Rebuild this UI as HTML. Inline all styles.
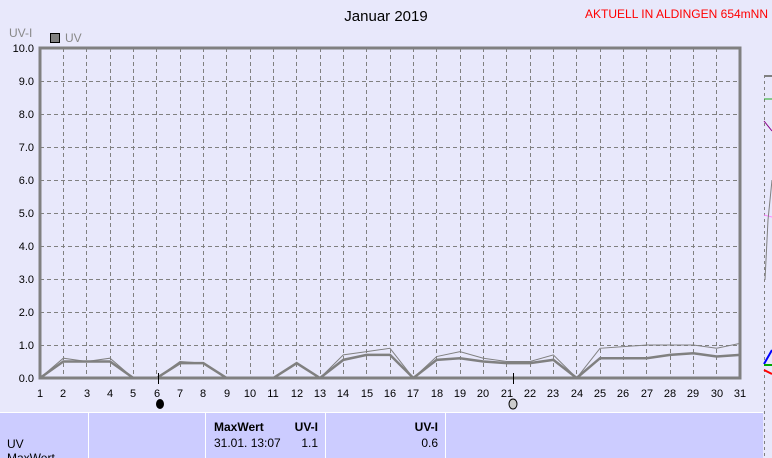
<!DOCTYPE html>
<html><head><style>
body{margin:0;width:772px;height:458px;overflow:hidden;background:#e8e8fb;font-family:"Liberation Sans",sans-serif;position:relative}
.t{position:absolute;white-space:nowrap}
</style></head><body>
<svg width="772" height="458" style="position:absolute;left:0;top:0" font-family="Liberation Sans, sans-serif">
<text x="386" y="21" font-size="15" text-anchor="middle" fill="#000">Januar 2019</text>
<text x="768" y="18" font-size="12" text-anchor="end" fill="#f00">AKTUELL IN ALDINGEN 654mNN</text>
<text x="9" y="37" font-size="12" fill="#888">UV-I</text>
<rect x="50.5" y="33.5" width="9" height="9" fill="#808080" stroke="#000"/>
<text x="65" y="42" font-size="12" fill="#888">UV</text>
<g stroke="#808080" stroke-dasharray="4,3" stroke-width="1">
<path d="M40 81.5H740M40 114.5H740M40 147.5H740M40 180.5H740M40 213.5H740M40 246.5H740M40 279.5H740M40 312.5H740M40 345.5H740"/>
<path d="M63.5 48V378M86.5 48V378M110.5 48V378M133.5 48V378M156.5 48V378M180.5 48V378M203.5 48V378M226.5 48V378M250.5 48V378M273.5 48V378M296.5 48V378M320.5 48V378M343.5 48V378M366.5 48V378M390.5 48V378M413.5 48V378M436.5 48V378M460.5 48V378M483.5 48V378M506.5 48V378M530.5 48V378M553.5 48V378M576.5 48V378M600.5 48V378M623.5 48V378M646.5 48V378M670.5 48V378M693.5 48V378M716.5 48V378"/>
</g>
<g stroke="#808080" fill="none">
<path d="M40 48H740V378H40Z" stroke-width="3"/>
</g>
<g font-size="11" fill="#000" text-anchor="end">
<text x="34" y="52">10.0</text><text x="34" y="85">9.0</text><text x="34" y="118">8.0</text><text x="34" y="151">7.0</text><text x="34" y="184">6.0</text><text x="34" y="217">5.0</text><text x="34" y="250">4.0</text><text x="34" y="283">3.0</text><text x="34" y="316">2.0</text><text x="34" y="349">1.0</text><text x="34" y="382">0.0</text>
</g>
<g font-size="11" fill="#000" text-anchor="middle">
<text x="40" y="397">1</text><text x="63" y="397">2</text><text x="87" y="397">3</text><text x="110" y="397">4</text><text x="133" y="397">5</text><text x="157" y="397">6</text><text x="180" y="397">7</text><text x="203" y="397">8</text><text x="227" y="397">9</text><text x="250" y="397">10</text><text x="273" y="397">11</text><text x="297" y="397">12</text><text x="320" y="397">13</text><text x="343" y="397">14</text><text x="367" y="397">15</text><text x="390" y="397">16</text><text x="413" y="397">17</text><text x="437" y="397">18</text><text x="460" y="397">19</text><text x="483" y="397">20</text><text x="507" y="397">21</text><text x="530" y="397">22</text><text x="553" y="397">23</text><text x="577" y="397">24</text><text x="600" y="397">25</text><text x="623" y="397">26</text><text x="647" y="397">27</text><text x="670" y="397">28</text><text x="693" y="397">29</text><text x="717" y="397">30</text><text x="740" y="397">31</text>
</g>
<g transform="translate(40,378) scale(23.3333,-33)" fill="none" stroke="#808080">
<polyline vector-effect="non-scaling-stroke" stroke-width="1" points="0,0 1,0.6 2,0.5 3,0.6 4,0 5,0 6,0.5 7,0.45 8,0 9,0 10,0 11,0.45 12,0 13,0.7 14,0.8 15,0.9 16,0 17,0.65 18,0.8 19,0.6 20,0.5 21,0.5 22,0.7 23,0 24,0.9 25,0.95 26,1 27,1 28,1 29,0.9 30,1.05"/>
<polyline vector-effect="non-scaling-stroke" stroke-width="2.5" points="0,0 1,0.5 2,0.5 3,0.5 4,0 5,0 6,0.45 7,0.45 8,0 9,0 10,0 11,0.45 12,0 13,0.55 14,0.7 15,0.7 16,0 17,0.55 18,0.6 19,0.5 20,0.45 21,0.45 22,0.55 23,0 24,0.6 25,0.6 26,0.6 27,0.7 28,0.75 29,0.65 30,0.7"/>
</g>
<line x1="158.5" y1="373" x2="158.5" y2="384" stroke="#000"/>
<line x1="513.5" y1="373" x2="513.5" y2="384" stroke="#000"/>
<ellipse cx="160" cy="404" rx="4" ry="5" fill="#000"/>
<ellipse cx="513" cy="404" rx="4" ry="5" fill="#ccc" stroke="#000"/>
<!-- right partial chart -->
<path d="M764.5 75V458" stroke="#808080" stroke-dasharray="3,3"/>
<path d="M764 76H772" stroke="#808080" stroke-width="2"/>
<path d="M764 99H772" stroke="#2a2"/>
<path d="M764 121L772 131" stroke="#808"/>
<path d="M764 215L772 217" stroke="#f8f"/>
<path d="M772 180L768 220L765 280" stroke="#808080" fill="none"/>
<path d="M764 364L772 350" stroke="#00f" stroke-width="2"/>
<path d="M764 365H772" stroke="#0a0" stroke-width="2"/>
<path d="M764 370L772 374" stroke="#f00" stroke-width="2"/>
<!-- table -->
<rect x="0" y="413" width="763" height="45" fill="#ccccff"/>
<line x1="0" y1="412.5" x2="763" y2="412.5" stroke="#fff"/>
<g stroke="#fff"><line x1="88.5" y1="413" x2="88.5" y2="458"/><line x1="205.5" y1="413" x2="205.5" y2="458"/><line x1="325.5" y1="413" x2="325.5" y2="458"/><line x1="445.5" y1="413" x2="445.5" y2="458"/></g>
<g font-size="12" fill="#000">
<text x="7" y="448">UV</text>
<text x="7" y="462">MaxWert</text>
<text x="214" y="431" font-weight="bold">MaxWert</text>
<text x="318" y="431" font-weight="bold" text-anchor="end">UV-I</text>
<text x="214" y="447">31.01.  13:07</text>
<text x="318" y="447" text-anchor="end">1.1</text>
<text x="438" y="431" font-weight="bold" text-anchor="end">UV-I</text>
<text x="438" y="447" text-anchor="end">0.6</text>
</g>
</svg>
</body></html>
